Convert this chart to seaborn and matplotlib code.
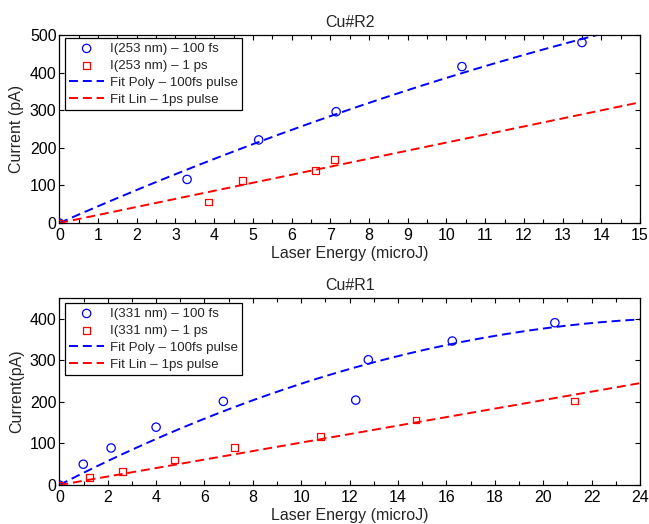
import numpy as np
import pandas as pd
import matplotlib
matplotlib.use("Agg")
import matplotlib.pyplot as plt
from matplotlib.ticker import MultipleLocator
import seaborn as sns

# ---- measured photocurrent, Cu#R2 (253 nm) ----
energy_253_fs = [0.0, 3.3, 5.15, 7.15, 10.4, 13.5]
current_253_fs = [0, 116, 221, 296, 416, 480]
energy_253_ps = [0.0, 3.85, 4.74, 6.61, 7.10]
current_253_ps = [0, 56, 112, 139, 169]

# ---- measured photocurrent, Cu#R1 (331 nm) ----
energy_331_fs = [0.0, 0.99, 2.14, 4.0, 6.78, 12.25, 12.77, 16.24, 20.48]
current_331_fs = [0, 50, 89, 139, 201, 204, 301, 346, 390]
energy_331_ps = [0.0, 1.24, 2.62, 4.75, 7.23, 10.8, 14.74, 21.28]
current_331_ps = [0, 18, 33, 60, 90, 116, 156, 202]

# ---- fit coefficients (highest power first, for np.polyval) ----
fit_poly_253 = [-0.67, 45.3, 0.0]
fit_lin_253 = [21.4, 0.0]
fit_poly_331 = [-0.555, 29.9, 0.0]
fit_lin_331 = [10.2, 0.0]

BLUE = "#0000ff"
RED = "#ff0000"
DASH = (0, (4.6, 2.5))
FS = 11.5

sns.set_theme(style="white")
plt.rcParams["font.family"] = ["Liberation Sans", "DejaVu Sans"]
plt.rcParams["axes.edgecolor"] = "black"
plt.rcParams["axes.linewidth"] = 0.9


def draw_panel(ax, e_fs, i_fs, e_ps, i_ps, poly, lin, xmax, ymax,
               wl, xmajor, xminor, title, ylabel, leg_anchor):
    fs_df = pd.DataFrame({"energy": e_fs, "current": i_fs})
    ps_df = pd.DataFrame({"energy": e_ps, "current": i_ps})
    xs = np.linspace(0, xmax, 300)
    fit_df = pd.DataFrame({
        "energy": xs,
        "poly": np.polyval(poly, xs),
        "lin": np.polyval(lin, xs),
    })

    sns.scatterplot(data=fs_df, x="energy", y="current", ax=ax, marker="o",
                    s=36, facecolors="none", edgecolors=BLUE, linewidth=0.9,
                    label=f"I({wl} nm) \u2013 100 fs", zorder=3)
    sns.scatterplot(data=ps_df, x="energy", y="current", ax=ax, marker="s",
                    s=24, facecolors="none", edgecolors=RED, linewidth=0.9,
                    label=f"I({wl} nm) \u2013 1 ps", zorder=4)
    sns.lineplot(data=fit_df, x="energy", y="poly", ax=ax, color=BLUE,
                 linestyle=DASH, linewidth=1.4,
                 label="Fit Poly \u2013 100fs pulse")
    sns.lineplot(data=fit_df, x="energy", y="lin", ax=ax, color=RED,
                 linestyle=DASH, linewidth=1.4,
                 label="Fit Lin \u2013 1ps pulse")

    ax.set_xlim(0, xmax)
    ax.set_ylim(0, ymax)
    ax.xaxis.set_major_locator(MultipleLocator(xmajor))
    ax.xaxis.set_minor_locator(MultipleLocator(xminor))
    ax.yaxis.set_major_locator(MultipleLocator(100))
    ax.tick_params(which="both", direction="in", top=True, right=True,
                   bottom=True, left=True, colors="black", labelsize=FS)
    ax.tick_params(which="major", length=3.6, width=0.8)
    ax.tick_params(which="minor", length=2.6, width=0.8)
    ax.tick_params(axis="x", pad=3.8)
    ax.tick_params(axis="y", pad=2)
    for sp in ax.spines.values():
        sp.set_visible(True)
        sp.set_color("black")
    ax.set_title(title, fontsize=FS, pad=5.5)
    ax.set_xlabel("Laser Energy (microJ)", fontsize=FS, labelpad=2.0)
    ax.set_ylabel(ylabel, fontsize=FS, labelpad=4)

    leg = ax.legend(loc="upper left", bbox_to_anchor=leg_anchor,
                    borderaxespad=0, fontsize=9.6, frameon=True,
                    fancybox=False, framealpha=1, edgecolor="black",
                    handlelength=2.6, handletextpad=0.45, labelspacing=0.35,
                    borderpad=0.32)
    leg.get_frame().set_linewidth(0.9)
    return ax


fig = plt.figure(figsize=(6.49, 5.24), dpi=100)
ax1 = fig.add_axes([0.0914, 0.5744, 0.8948, 0.3588])
ax2 = fig.add_axes([0.0914, 0.0744, 0.8948, 0.3574])

draw_panel(ax1, energy_253_fs, current_253_fs, energy_253_ps, current_253_ps,
           fit_poly_253, fit_lin_253, 15, 500, 253, 1, 0.5,
           "Cu#R2", "Current (pA)", (0.0098, 0.9824))
draw_panel(ax2, energy_331_fs, current_331_fs, energy_331_ps, current_331_ps,
           fit_poly_331, fit_lin_331, 24, 450, 331, 2, 1,
           "Cu#R1", "Current(pA)", (0.0098, 0.970))

fig.savefig("out.png", dpi=100)
